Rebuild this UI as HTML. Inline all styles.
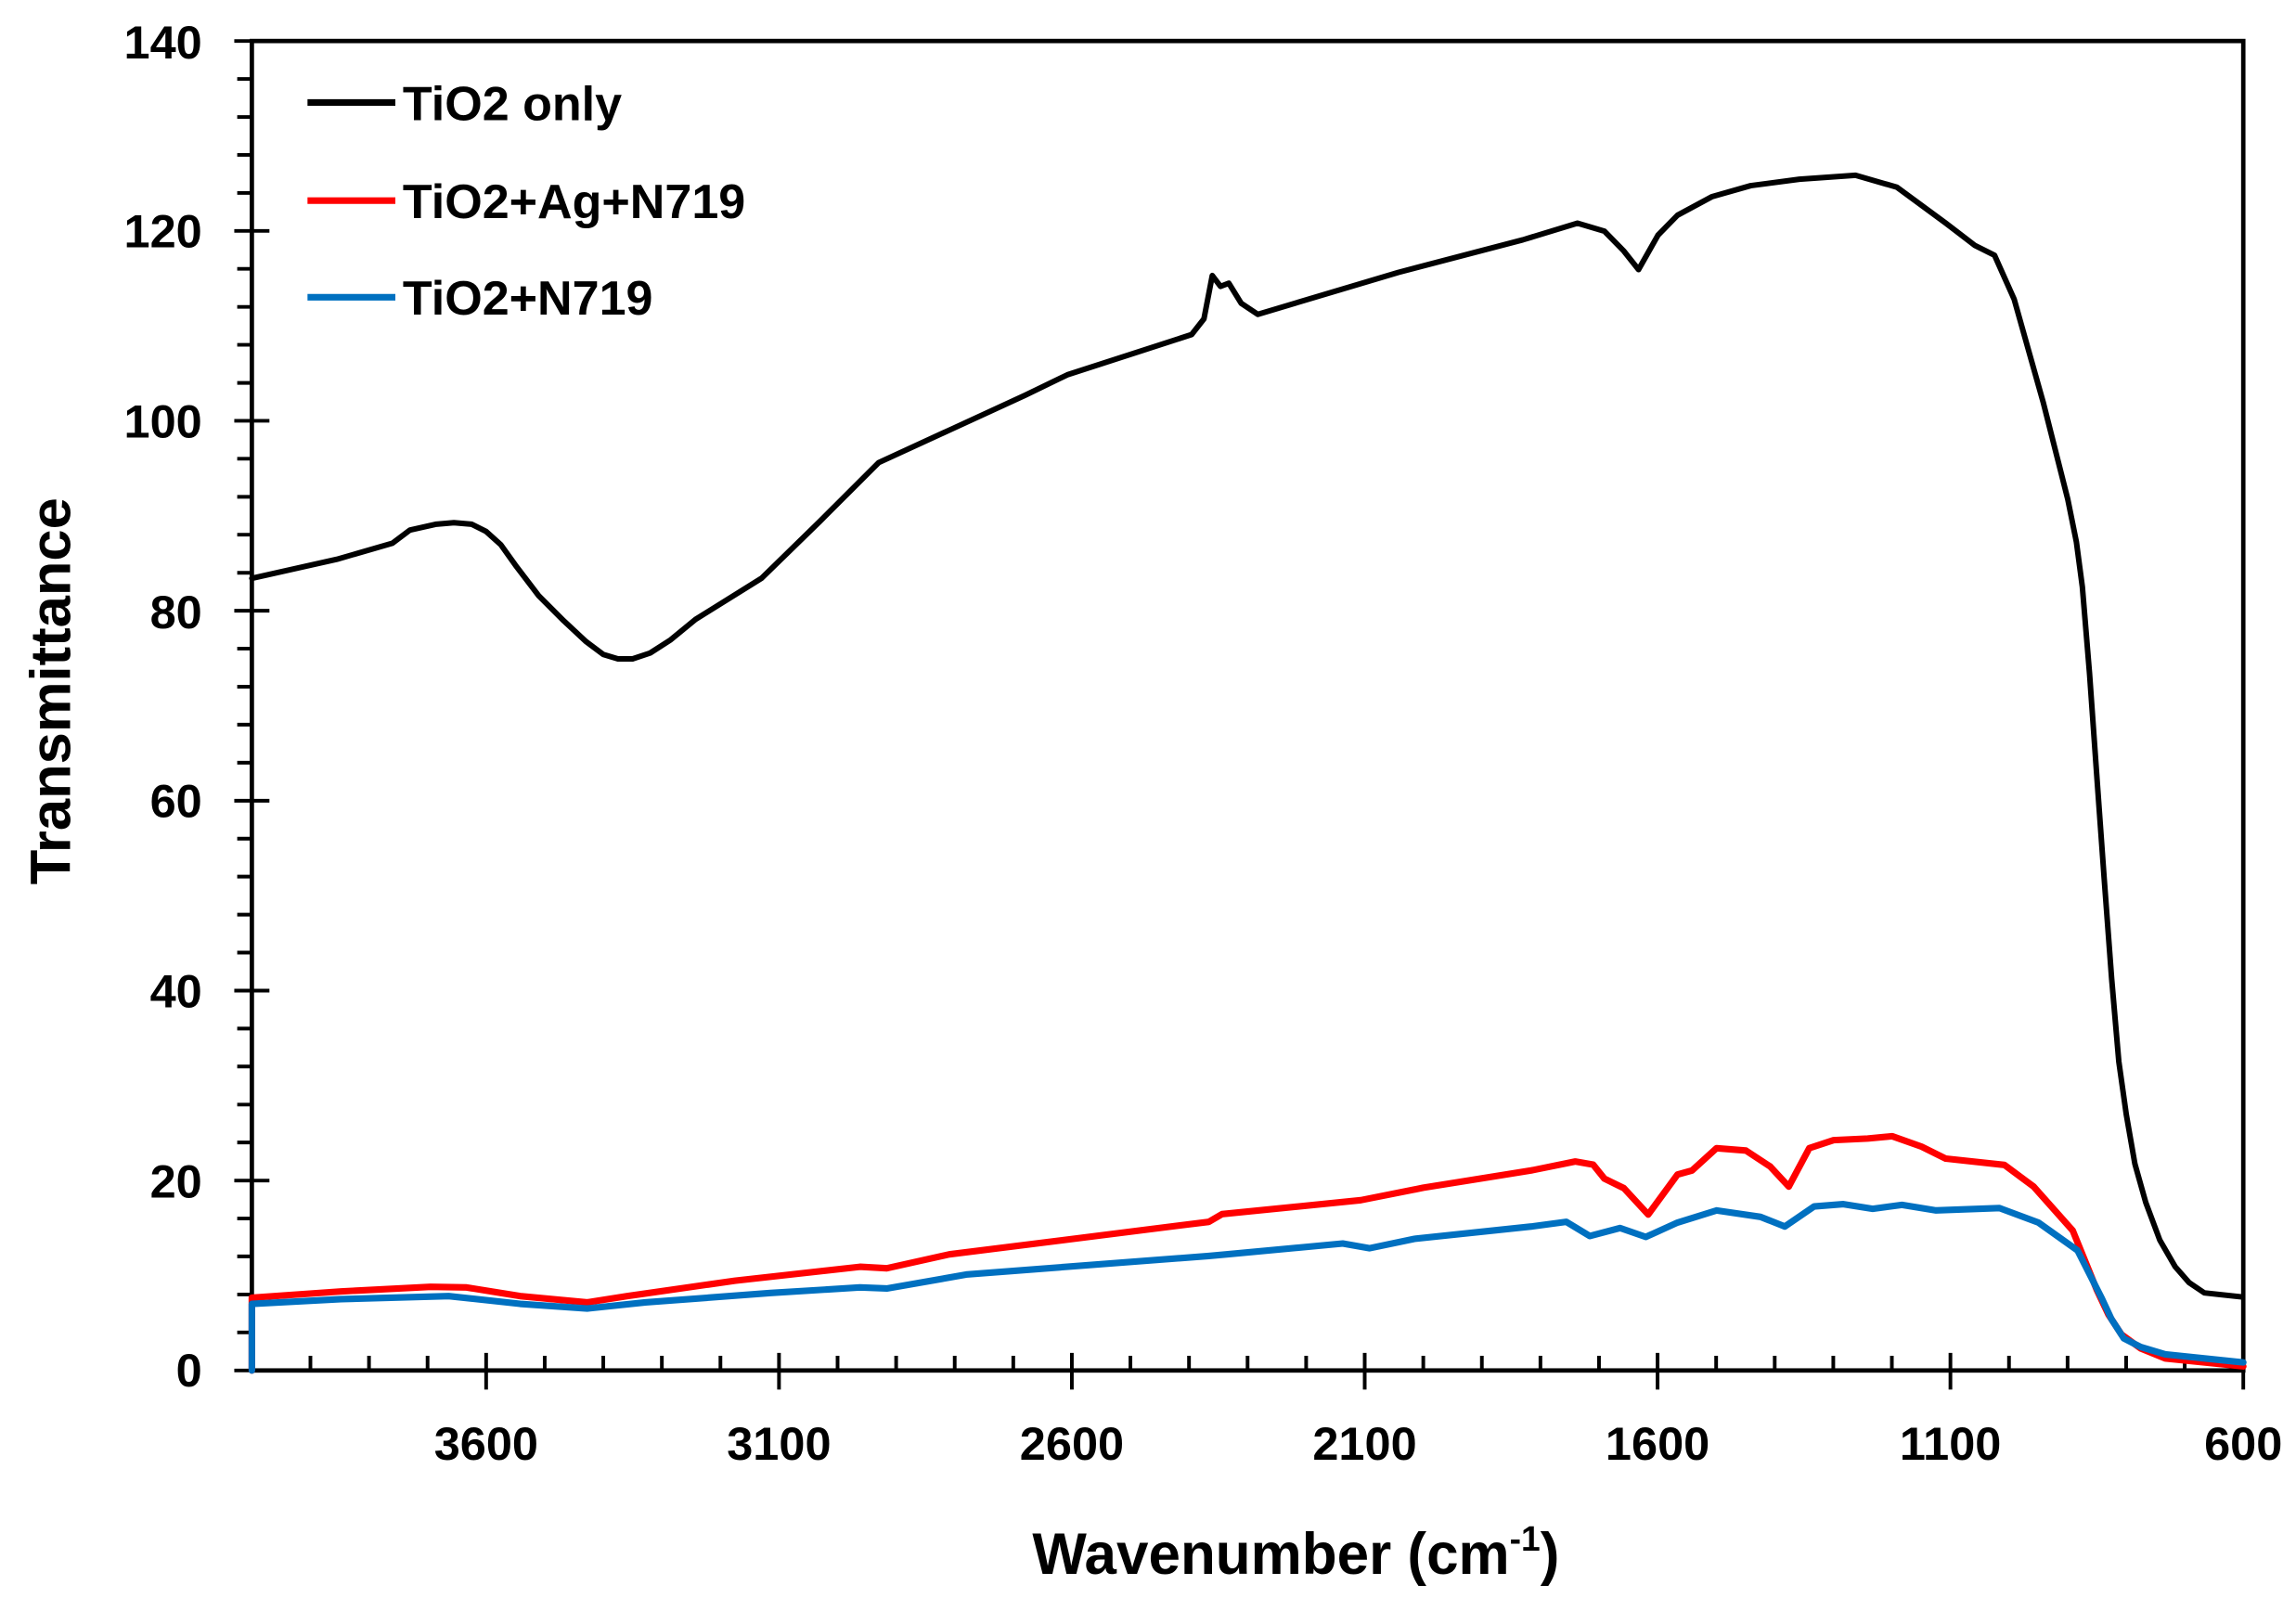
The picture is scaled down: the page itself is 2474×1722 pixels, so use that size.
<!DOCTYPE html>
<html><head><meta charset="utf-8"><style>
html,body{margin:0;padding:0;background:#fff;}
svg{display:block;}
text{font-family:"Liberation Sans",Arial,sans-serif;font-weight:bold;fill:#000;}
</style></head><body>
<svg width="2474" height="1722" viewBox="0 0 1568 1091.4" preserveAspectRatio="none" xmlns="http://www.w3.org/2000/svg">
<rect x="0" y="0" width="1568" height="1091.4" fill="#fff"/>
<rect x="172" y="28" width="1360" height="908" fill="none" stroke="#000" stroke-width="3"/>
<g stroke="#000" stroke-width="2.5">
<path d="M160 28H184M160 157.7H184M160 287.4H184M160 417.1H184M160 546.9H184M160 676.6H184M160 806.3H184M160 936H184"/>
<path d="M162 53.9H172M162 79.9H172M162 105.8H172M162 131.8H172M162 183.6H172M162 209.6H172M162 235.5H172M162 261.5H172M162 313.3H172M162 339.3H172M162 365.2H172M162 391.2H172M162 443H172M162 469H172M162 494.9H172M162 520.9H172M162 572.8H172M162 598.7H172M162 624.7H172M162 650.6H172M162 702.5H172M162 728.4H172M162 754.4H172M162 780.3H172M162 832.2H172M162 858.1H172M162 884.1H172M162 910H172"/>
</g>
<g stroke="#000" stroke-width="2.5">
<path d="M332 924V949M532 924V949M732 924V949M932 924V949M1132 924V949M1332 924V949M1532 924V949"/>
<path d="M212 926V936M252 926V936M292 926V936M372 926V936M412 926V936M452 926V936M492 926V936M572 926V936M612 926V936M652 926V936M692 926V936M772 926V936M812 926V936M852 926V936M892 926V936M972 926V936M1012 926V936M1052 926V936M1092 926V936M1172 926V936M1212 926V936M1252 926V936M1292 926V936M1372 926V936M1412 926V936M1452 926V936M1492 926V936"/>
</g>
<g font-size="32" text-anchor="end">
<text x="138" y="40">140</text>
<text x="138" y="169">120</text>
<text x="138" y="299">100</text>
<text x="138" y="429">80</text>
<text x="138" y="558">60</text>
<text x="138" y="688">40</text>
<text x="138" y="818">20</text>
<text x="138" y="947">0</text>
</g>
<g font-size="32" text-anchor="middle">
<text x="332" y="997">3600</text>
<text x="532" y="997">3100</text>
<text x="732" y="997">2600</text>
<text x="932" y="997">2100</text>
<text x="1132" y="997">1600</text>
<text x="1332" y="997">1100</text>
<text x="1532" y="997">600</text>
</g>
<text x="705" y="1075" font-size="40" textLength="360" lengthAdjust="spacingAndGlyphs">Wavenumber (cm<tspan dy="-16" font-size="24">-1</tspan><tspan dy="16">)</tspan></text>
<text transform="translate(48,472) rotate(-90)" font-size="39" text-anchor="middle">Transmittance</text>
<g stroke-width="4.5">
<line x1="210" y1="70" x2="270" y2="70" stroke="#000"/>
<line x1="210" y1="137" x2="270" y2="137" stroke="#ff0000"/>
<line x1="210" y1="203" x2="270" y2="203" stroke="#0070c0"/>
</g>
<g font-size="33">
<text x="275" y="82">TiO2 only</text>
<text x="275" y="149">TiO2+Ag+N719</text>
<text x="275" y="215">TiO2+N719</text>
</g>
<g fill="none" stroke-linejoin="round" stroke-linecap="round">
<polyline stroke="#000" stroke-width="3.8" points="172,395 230,382 268,371 280,362 298,358 310,357 322,358 332,363 342,372 352,386 368,407 385,424 400,438 412,447 422,450 432,450 444,446 458,437 475,423 520,395 560,356 600,316 650,293 700,270 728.9,256 813.8,228.5 822.2,217.8 827.9,188.2 833.5,195.6 839.2,193.4 847.7,207.2 859,214.7 955.1,186 1040,163.8 1077.3,152.4 1095.7,157.9 1109,171.5 1119,184.1 1132.3,160.6 1145.6,147 1169,134.4 1195.6,126.8 1228.9,122.4 1267.2,119.7 1295.5,127.9 1328.8,152.4 1348.8,167.7 1362.1,174.3 1375.5,204.3 1395.5,275.3 1412.1,340.8 1418,370 1422.1,400.9 1427,460 1432.1,531.9 1437,600 1442.1,668.4 1447,725 1452.1,761.2 1458,795 1465.4,821.3 1475,847 1485.4,865 1495,876 1505.4,883 1530.4,885.7"/>
<polyline stroke="#ff0000" stroke-width="4.5" points="172,936 172,886.3 233,882 294,878.9 318.6,879.3 355.2,885.2 401,889.5 428.5,885.2 501.8,874.7 587.3,865.2 605.6,866.2 648.3,856.7 825.5,834.5 834.6,829.2 929.3,819.7 972,811.2 1045.7,799.4 1075.8,793.3 1088,795.4 1095.7,805 1109,811.5 1125.6,829.5 1145.6,802.2 1155.6,799.4 1172.3,784.2 1192.3,785.8 1208.9,796.7 1221.6,810.4 1235.6,784.2 1252.2,778.7 1275.5,777.6 1292.2,776 1312.2,783.1 1328.8,791.3 1368.8,795.6 1388.8,810.4 1415.5,840.4 1432.1,881.3 1440,898 1448.8,911.4 1462,921 1478.7,927.8 1532,933.2"/>
<polyline stroke="#0070c0" stroke-width="4.5" points="172,936 172,890.5 233,887.3 306.4,885.2 355.2,890.5 401,893.7 440.7,889.5 526.2,883.1 587.3,879.3 605.6,880 660.6,870.4 825.5,857.8 837.7,856.7 917,849.3 935.4,852.5 965.9,846.1 1045.7,837.7 1069.7,834.5 1085.7,844.2 1106.4,838.7 1124,844.8 1145.6,835 1172.3,826.7 1202.3,831.1 1218.9,837.7 1238.9,824 1258.9,822.4 1278.9,825.6 1298.9,822.9 1322.2,826.7 1365.5,825.1 1392.1,835 1418.8,854 1435.4,886.8 1442,901 1450.4,914.1 1462,920 1478.7,925 1532,930.5"/>
</g>
</svg>
</body></html>
